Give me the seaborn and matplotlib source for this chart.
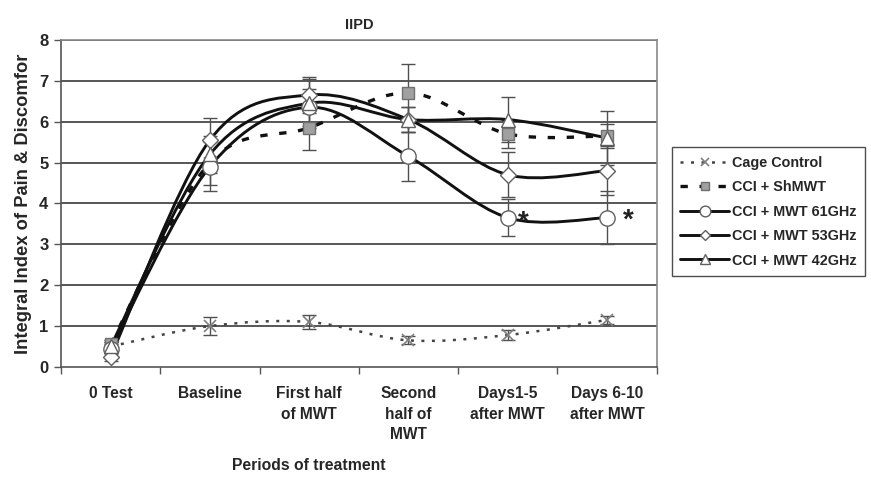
import numpy as np
import pandas as pd
import matplotlib
matplotlib.use("Agg")
import matplotlib.pyplot as plt
from matplotlib.path import Path
from matplotlib.patches import PathPatch
from matplotlib.lines import Line2D
import seaborn as sns

categories = ["0 Test", "Baseline", "First half\nof MWT", "Second\nhalf of\nMWT",
              "Days1-5\nafter MWT", "Days 6-10\nafter MWT"]
series_names = ["Cage Control", "CCI + ShMWT", "CCI + MWT 61GHz", "CCI + MWT 53GHz", "CCI + MWT 42GHz"]

cage_control = [0.50, 1.00, 1.10, 0.65, 0.78, 1.15]
cci_shmwt    = [0.55, 5.00, 5.85, 6.70, 5.70, 5.65]
cci_61ghz    = [0.45, 4.90, 6.35, 5.15, 3.65, 3.65]
cci_53ghz    = [0.25, 5.55, 6.65, 6.05, 4.70, 4.80]
cci_42ghz    = [0.50, 5.20, 6.45, 6.05, 6.05, 5.60]

err_cage = [0.10, 0.22, 0.18, 0.10, 0.12, 0.10]
err_sh   = [0.10, 0.55, 0.55, 0.70, 0.35, 0.30]
err_61   = [0.10, 0.60, 0.45, 0.60, 0.45, 0.65]
err_53   = [0.10, 0.55, 0.45, 0.30, 0.55, 0.60]
err_42   = [0.10, 0.45, 0.60, 0.30, 0.55, 0.65]

y_ticks = [0, 1, 2, 3, 4, 5, 6, 7, 8]

sns.set_theme(style="white")
plt.rcParams['font.family'] = ['Liberation Sans', 'DejaVu Sans']
plt.rcParams['font.weight'] = 'bold'

fig = plt.figure(figsize=(8.71, 4.86), dpi=100)
ax = fig.add_axes([0.070, 0.245, 0.684, 0.673])

x = np.arange(len(categories))
values = [cage_control, cci_shmwt, cci_61ghz, cci_53ghz, cci_42ghz]
errors = [err_cage, err_sh, err_61, err_53, err_42]
styles = [
    dict(color="#444444", lw=1.8, ls=(0, (1.2, 3.0)), marker="x", mfc="none", mec="#808080", ms=8, mew=1.2),
    dict(color="#111111", lw=2.4, ls=(0, (2.2, 3.5)), marker="s", mfc="#a0a0a0", mec="#707070", ms=9, mew=1.0),
    dict(color="#111111", lw=2.1, ls="-", marker="o", mfc="white", mec="#606060", ms=11, mew=1.0),
    dict(color="#111111", lw=2.1, ls="-", marker="D", mfc="white", mec="#606060", ms=8, mew=1.0),
    dict(color="#111111", lw=2.1, ls="-", marker="^", mfc="white", mec="#606060", ms=10, mew=1.0),
]

# grid
for yt in y_ticks[1:]:
    ax.axhline(yt, color="#3a3a3a", lw=1.2, zorder=0)


def smooth_path(xs, ys):
    """Excel-style smoothed line drawn as cubic Bezier segments through the data points."""
    pts = np.column_stack([xs, ys]).astype(float)
    n = len(pts)
    verts = [pts[0]]
    codes = [Path.MOVETO]
    for i in range(n - 1):
        p0 = pts[i - 1] if i > 0 else pts[i]
        p1 = pts[i]
        p2 = pts[i + 1]
        p3 = pts[i + 2] if i + 2 < n else pts[i + 1]
        c1 = p1 + (p2 - p0) / 6.0
        c2 = p2 - (p3 - p1) / 6.0
        verts += [c1, c2, p2]
        codes += [Path.CURVE4] * 3
    return Path(verts, codes)


# error bars
for vals, errs in zip(values, errors):
    ax.errorbar(x, vals, yerr=errs, fmt="none", ecolor="#505050", elinewidth=1.0,
                capsize=5, capthick=1.0, zorder=2)

# smoothed lines
for vals, st in zip(values, styles):
    patch = PathPatch(smooth_path(x, vals), facecolor="none", edgecolor=st["color"],
                      lw=st["lw"], linestyle=st["ls"], zorder=3)
    ax.add_patch(patch)

# markers via seaborn
for name, vals, st in zip(series_names, values, styles):
    df = pd.DataFrame({"x": x, "y": vals})
    sns.lineplot(data=df, x="x", y="y", ax=ax, linestyle="none", marker=st["marker"],
                 markerfacecolor=st["mfc"], markeredgecolor=st["mec"], markersize=st["ms"],
                 markeredgewidth=st["mew"], zorder=4)

# asterisks
ax.text(x[4] + 0.1, cci_61ghz[4] - 0.12, "*", fontsize=20, ha="left", va="center", color="#222222")
ax.text(x[5] + 0.16, cci_61ghz[5] - 0.08, "*", fontsize=20, ha="left", va="center", color="#222222")

ax.set_xlim(-0.5, len(categories) - 0.5)
ax.set_ylim(0, 8)
ax.set_yticks(y_ticks)
ax.set_yticklabels([str(v) for v in y_ticks], fontsize=12, fontweight="bold")
ax.set_xticks(np.arange(-0.5, len(categories), 1.0))
ax.set_xticklabels([])
ax.set_xticks(x, minor=True)
ax.set_xticklabels(categories, minor=True, fontsize=11.2, fontweight="bold", linespacing=1.45)
ax.tick_params(axis="x", which="minor", length=0, pad=14)
ax.tick_params(axis="x", which="major", length=5, width=1, color="#555555", direction="out", bottom=True)
ax.tick_params(axis="y", length=5, width=1, color="#555555", direction="out", left=True, pad=4)
for lab in ax.get_xticklabels(minor=True):
    lab.set_verticalalignment("top")

for side, sp in ax.spines.items():
    sp.set_color("#8a8a8a")
    sp.set_linewidth(1.2)
ax.spines["left"].set_color("#555555")
ax.spines["bottom"].set_color("#555555")

ax.set_xlabel("")
ax.set_ylabel("Integral Index of Pain & Discomfor", fontsize=13.2, fontweight="bold", labelpad=5)
ax.set_title("IIPD", fontsize=10.5, fontweight="bold", pad=8)
fig.text(0.354, 0.043, "Periods of treatment", fontsize=11.3, fontweight="bold", ha="center", va="center")

handles = []
for name, st in zip(series_names, styles):
    handles.append(Line2D([0], [0], color=st["color"], lw=st["lw"], linestyle=st["ls"],
                          marker=st["marker"], markerfacecolor=st["mfc"],
                          markeredgecolor=st["mec"], markersize=st["ms"] * 0.7,
                          markeredgewidth=st["mew"]))
leg = fig.legend(handles, series_names, loc="upper left", bbox_to_anchor=(0.771, 0.697),
                 frameon=True, fancybox=False, prop=dict(size=10.4, weight="bold"),
                 handlelength=3.4, handletextpad=0.2, labelspacing=0.72, borderpad=0.6,
                 borderaxespad=0)
leg.get_frame().set_edgecolor("#222222")
leg.get_frame().set_linewidth(1.0)

fig.savefig("out.png", dpi=100)
